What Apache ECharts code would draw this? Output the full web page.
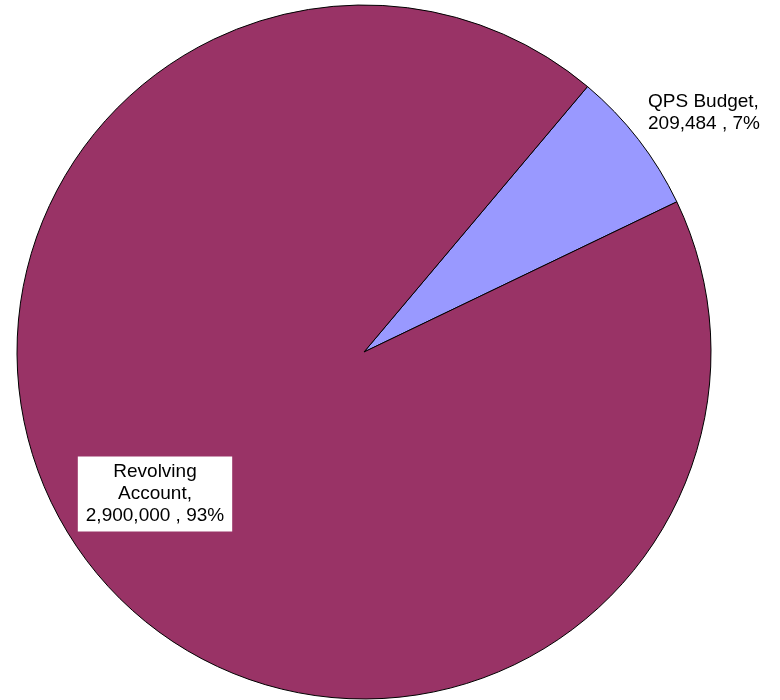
<!DOCTYPE html>
<html>
<head>
<meta charset="utf-8">
<script src="https://cdn.jsdelivr.net/npm/echarts@6/dist/echarts.min.js"></script>
<style>
  html, body { margin: 0; padding: 0; background: #ffffff; }
  #chart { width: 780px; height: 700px; }
</style>
</head>
<body>
<div id="chart"></div>
<script>
// Budget sources
const categories = ['QPS Budget', 'Revolving Account'];
const amounts = [209484, 2900000];
const sliceColors = ['#9999FF', '#993366'];

// Label anchor positions (layout only)
const labelSpots = [
  { x: 648, y: 113, align: 'left' },
  { x: 155, y: 494, align: 'center' }
];

const chart = echarts.init(document.getElementById('chart'));

const fmt = n => n.toLocaleString('en-US');

chart.setOption({
  animation: false,
  backgroundColor: '#ffffff',
  series: [{
    type: 'pie',
    center: [364, 352],
    radius: 347,
    startAngle: 49.9,
    clockwise: true,
    avoidLabelOverlap: false,
    itemStyle: { borderColor: '#000000', borderWidth: 1 },
    emphasis: { disabled: true },
    labelLine: { show: false },
    label: {
      show: true,
      color: '#000000',
      fontFamily: 'Liberation Sans, Arial, sans-serif',
      fontSize: 19,
      lineHeight: 22,
      formatter: p => {
        const name = p.dataIndex === 1 ? 'Revolving\nAccount' : p.name;
        return name + ',\n' + fmt(p.value) + ' , ' + Math.round(p.percent) + '%';
      }
    },
    labelLayout: params => {
      const s = labelSpots[params.dataIndex];
      return { x: s.x, y: s.y, align: s.align, verticalAlign: 'middle' };
    },
    data: categories.map((c, i) => ({
      name: c,
      value: amounts[i],
      itemStyle: { color: sliceColors[i] },
      label: i === 1
        ? { backgroundColor: '#ffffff', padding: [5, 8, 4, 8], align: 'center' }
        : { align: 'left' }
    }))
  }]
});
</script>
</body>
</html>
